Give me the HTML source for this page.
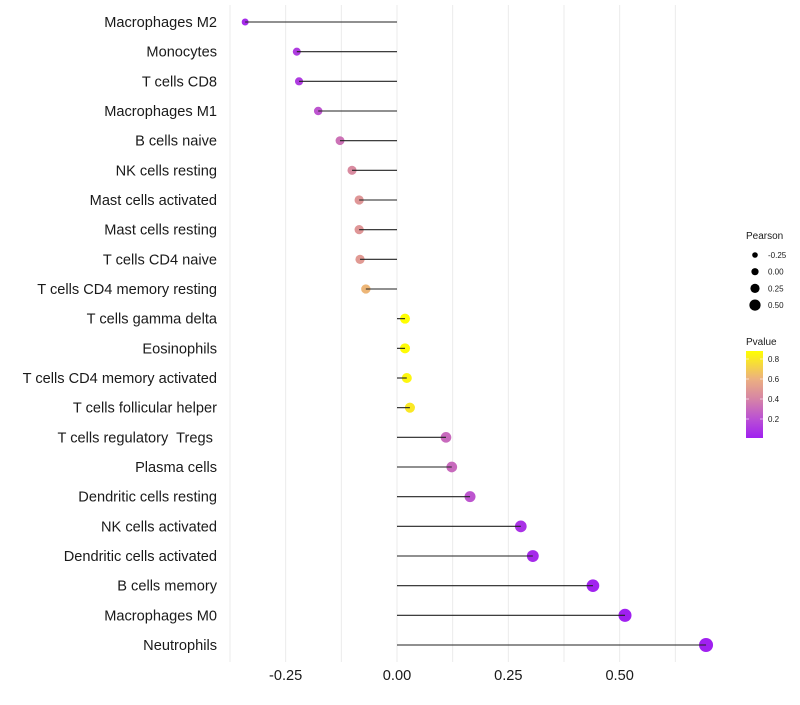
<!DOCTYPE html>
<html><head><meta charset="utf-8"><style>
body{margin:0;background:#fff;}
svg text{font-family:"Liberation Sans",sans-serif;white-space:pre;}
</style></head><body>
<svg id="chart" width="800" height="700" xmlns="http://www.w3.org/2000/svg"></svg>
<script>
const categories=["Macrophages M2","Monocytes","T cells CD8","Macrophages M1","B cells naive","NK cells resting","Mast cells activated","Mast cells resting","T cells CD4 naive","T cells CD4 memory resting","T cells gamma delta","Eosinophils","T cells CD4 memory activated","T cells follicular helper","T cells regulatory  Tregs ","Plasma cells","Dendritic cells resting","NK cells activated","Dendritic cells activated","B cells memory","Macrophages M0","Neutrophils"];
const pearson=[-0.341,-0.225,-0.22,-0.177,-0.128,-0.101,-0.085,-0.085,-0.083,-0.07,0.018,0.018,0.022,0.029,0.11,0.123,0.164,0.278,0.305,0.44,0.512,0.694];
const pvalue=[0.05,0.12,0.12,0.22,0.33,0.43,0.48,0.48,0.5,0.62,0.88,0.87,0.85,0.8,0.3,0.3,0.22,0.08,0.05,0.02,0.01,0.01];
const xTicks=[-0.25,0,0.25,0.5];
const xTickLabels=["-0.25","0.00","0.25","0.50"];
const sizeLegend=[-0.25,0,0.25,0.5];
const sizeLegendLabels=["-0.25","0.00","0.25","0.50"];
const pLegend=[0.8,0.6,0.4,0.2];
const pLegendLabels=["0.8","0.6","0.4","0.2"];

const svg=document.getElementById('chart');
const NS="http://www.w3.org/2000/svg";
const x=v=>397+v*445.3;
const y=i=>22+i*29.667;
const r=v=>Math.sqrt(Math.max(2.5,24.3+35.8*v));
const stops=[[0.01,[160,32,240]],[0.2,[186,80,212]],[0.4,[214,132,166]],[0.6,[236,176,128]],[0.88,[255,255,0]]];
function col(p){
  if(p<=stops[0][0])return `rgb(${stops[0][1]})`;
  for(let k=1;k<stops.length;k++){if(p<=stops[k][0]){const a=stops[k-1],b=stops[k];const t=(p-a[0])/(b[0]-a[0]);return `rgb(${a[1].map((c,j)=>Math.round(c+(b[1][j]-c)*t)).join(',')})`;}}
  return `rgb(${stops[stops.length-1][1]})`;
}
function el(tag,attrs,text){const e=document.createElementNS(NS,tag);for(const k in attrs)e.setAttribute(k,attrs[k]);if(text!==undefined)e.textContent=text;svg.appendChild(e);return e;}

for(let g=-0.375;g<=0.626;g+=0.125){
  const gl=el('line',{x1:x(g),x2:x(g),y1:5,y2:662,stroke:'#ebebeb','stroke-width':1});
  
  
}
xTicks.forEach((t,i)=>{
  const tl=el('text',{x:x(t),y:680,'text-anchor':'middle','font-size':14.6,fill:'#1a1a1a'},xTickLabels[i]);
  
  
});
categories.forEach((c,i)=>{
  const lab=el('text',{x:217,y:y(i)+5,'text-anchor':'end','font-size':14.6,fill:'#1a1a1a'},c);
  
  
  const pt=el('circle',{cx:x(pearson[i]),cy:y(i),r:r(pearson[i]),fill:col(pvalue[i])});
  
  
  const ln=el('line',{x1:x(0),x2:x(pearson[i]),y1:y(i),y2:y(i),stroke:'#222','stroke-width':1.1});
  
  
});
const st1=el('text',{x:746,y:239,'font-size':10,fill:'#1a1a1a'},'Pearson');


const legR=[2.8,3.6,4.6,5.6];
sizeLegend.forEach((v,i)=>{
  const c=el('circle',{cx:755,cy:255+i*16.7,r:legR[i],fill:'#000'});
  
  
  const t=el('text',{x:768,y:258+i*16.7,'font-size':8,fill:'#1a1a1a'},sizeLegendLabels[i]);
  
  
});
const st2=el('text',{x:746,y:345,'font-size':10,fill:'#1a1a1a'},'Pvalue');


const defs=el('defs',{});
const lg=document.createElementNS(NS,'linearGradient');lg.setAttribute('id','pg');lg.setAttribute('x1','0');lg.setAttribute('y1','1');lg.setAttribute('x2','0');lg.setAttribute('y2','0');
defs.appendChild(lg);
const pmin=0.01,pmax=0.88;
stops.forEach(s=>{const st=document.createElementNS(NS,'stop');st.setAttribute('offset',(s[0]-pmin)/(pmax-pmin));st.setAttribute('stop-color',`rgb(${s[1]})`);lg.appendChild(st);});
const py=p=>438-(p-pmin)/(pmax-pmin)*87;
const bar=el('rect',{x:746,y:351,width:17,height:87,fill:'url(#pg)'});


pLegend.forEach((p,i)=>{
  el('line',{x1:746,x2:749,y1:py(p),y2:py(p),stroke:'#fff','stroke-width':0.6});
  el('line',{x1:760,x2:763,y1:py(p),y2:py(p),stroke:'#fff','stroke-width':0.6});
  const t=el('text',{x:768,y:py(p)+3,'font-size':8,fill:'#1a1a1a'},pLegendLabels[i]);
  
  
});
</script>
</body></html>
